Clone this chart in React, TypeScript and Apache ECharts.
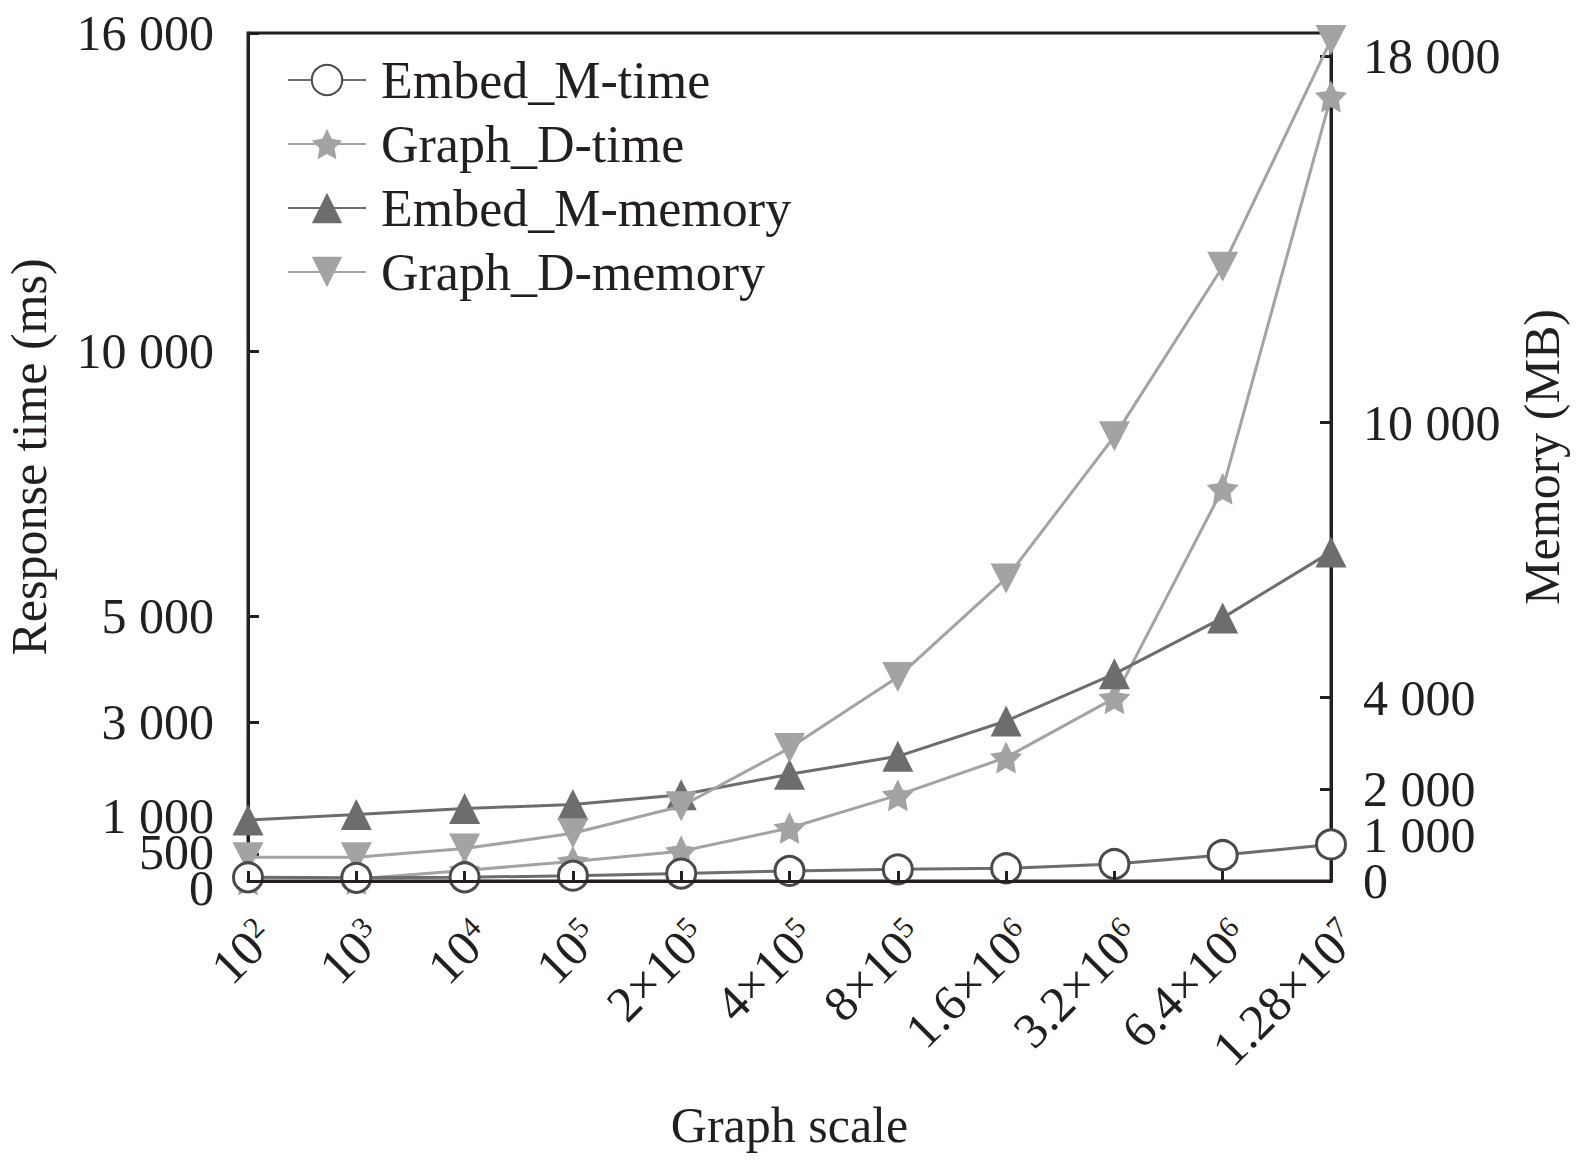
import { useRef, useEffect } from "react";
import * as echarts from "echarts";

const categories = [
  "10^2",
  "10^3",
  "10^4",
  "10^5",
  "2×10^5",
  "4×10^5",
  "8×10^5",
  "1.6×10^6",
  "3.2×10^6",
  "6.4×10^6",
  "1.28×10^7",
];
const embedTime = [70, 60, 70, 100, 140, 190, 220, 240, 320, 490, 690];
const graphTime = [30, 40, 200, 370, 560, 1000, 1620, 2330, 3450, 7400, 14800];
const embedMemory = [1330, 1450, 1580, 1670, 1880, 2330, 2720, 3490, 4520, 5740, 7180];
const graphMemory = [520, 520, 710, 1040, 1630, 2900, 4450, 6600, 9700, 13400, 18350];
// label lists start with two far-apart values so ECharts' min/max overlap check keeps every label
const timeTicks = [0, 3000, 500, 1000, 5000, 10000, 16000];
const memoryTicks = [0, 2000, 1000, 4000, 10000, 18000];

const FONT = '"Liberation Serif", "Times New Roman", serif';
const INK = "#231f20";
const DARK = "#6d6d6d";
const LIGHT = "#a3a3a3";

// five-point star symbol
const starSymbol = (() => {
  const pts: string[] = [];
  for (let i = 0; i < 10; i++) {
    const r = i % 2 === 0 ? 50 : 25;
    const a = -Math.PI / 2 + (i * Math.PI) / 5;
    pts.push(`${(50 + r * Math.cos(a)).toFixed(2)},${(50 + r * Math.sin(a)).toFixed(2)}`);
  }
  return "path://M" + pts.join("L") + "Z";
})();

const thousands = (v: number) => String(v).replace(/\B(?=(\d{3})+(?!\d))/g, " ");

const txt = (extra = {}) => ({ fontFamily: FONT, fontSize: 50, color: INK, ...extra });

const App = () => {
  const chartRef = useRef<HTMLDivElement>(null);

  useEffect(() => {
    if (!chartRef.current) return;
    const chart = echarts.init(chartRef.current, null, { renderer: "svg" });

    const option = {
      animation: false,
      textStyle: { fontFamily: FONT, color: INK },
      grid: {
        left: 248,
        right: 248,
        top: 33,
        bottom: 284,
        show: true,
        borderColor: INK,
        borderWidth: 3,
        outerBoundsMode: "none",
      },
      legend: {
        orient: "vertical",
        left: 282,
        top: 49,
        itemWidth: 78,
        itemHeight: 38,
        itemGap: 12,
        textStyle: {
          fontFamily: FONT,
          fontSize: 52,
          color: INK,
          padding: [0, 0, 0, 10],
        },
        data: ["Embed_M-time", "Graph_D-time", "Embed_M-memory", "Graph_D-memory"],
      },
      xAxis: {
        type: "category",
        data: categories,
        boundaryGap: false,
        z: 10,
        name: "Graph scale",
        nameLocation: "middle",
        nameGap: 219,
        nameTextStyle: txt(),
        axisLine: { show: true, lineStyle: { color: INK, width: 3 } },
        axisTick: {
          show: true,
          inside: true,
          length: 10,
          interval: 0,
          lineStyle: { color: INK, width: 3 },
        },
        splitLine: { show: false },
        axisLabel: {
          interval: 0,
          rotate: 45,
          margin: 30,
          align: "right",
          verticalAlign: "top",
          showMinLabel: true,
          showMaxLabel: true,
          formatter: (v: string) => {
            const [base, exp] = v.split("^");
            return `{n|${base}}{s|${exp}}`;
          },
          rich: {
            n: txt({ lineHeight: 50 }),
            s: txt({ fontSize: 30, lineHeight: 30, verticalAlign: "top" }),
          },
        },
      },
      yAxis: [
        {
          type: "value",
          position: "left",
          min: 0,
          max: 16000,
          name: "Response time (ms)",
          nameLocation: "middle",
          nameRotate: 90,
          nameGap: 194,
          nameTextStyle: txt(),
          axisLine: { show: true, lineStyle: { color: INK, width: 3 } },
          axisTick: {
            show: true,
            inside: true,
            length: 11,
            customValues: timeTicks,
            lineStyle: { color: INK, width: 3 },
          },
          splitLine: { show: false },
          axisLabel: {
            margin: 34,
            showMinLabel: true,
            showMaxLabel: true,
            hideOverlap: false,
            customValues: timeTicks,
            // the three crowded labels near zero are nudged apart like in the reference
            formatter: (v: number) => {
              const s = thousands(v);
              if (v === 0) return `{dn|${s}}`;
              if (v === 500) return `{up1|${s}}`;
              if (v === 1000) return `{up2|${s}}`;
              return `{n|${s}}`;
            },
            rich: {
              n: txt({ lineHeight: 10 }),
              dn: txt({ lineHeight: 10, padding: [14, 0, 0, 0] }),
              up1: txt({ lineHeight: 10, padding: [0, 0, 6, 0] }),
              up2: txt({ lineHeight: 10, padding: [0, 0, 24, 0] }),
            },
          },
        },
        {
          type: "value",
          position: "right",
          min: 0,
          max: 18500,
          name: "Memory (MB)",
          nameLocation: "middle",
          nameRotate: 90,
          nameGap: 186,
          nameTextStyle: txt(),
          axisLine: { show: true, lineStyle: { color: INK, width: 3 } },
          axisTick: {
            show: true,
            inside: true,
            length: 11,
            customValues: memoryTicks,
            lineStyle: { color: INK, width: 3 },
          },
          splitLine: { show: false },
          axisLabel: {
            margin: 32,
            showMinLabel: true,
            showMaxLabel: true,
            hideOverlap: false,
            customValues: memoryTicks,
            formatter: (v: number) => `{n|${thousands(v)}}`,
            rich: {
              n: txt({ lineHeight: 10 }),
            },
          },
        },
      ],
      series: [
        {
          name: "Graph_D-time",
          type: "line",
          yAxisIndex: 0,
          data: graphTime,
          z: 2,
          symbol: starSymbol,
          symbolSize: 32,
          itemStyle: { color: LIGHT },
          lineStyle: { color: LIGHT, width: 3 },
        },
        {
          name: "Embed_M-memory",
          type: "line",
          yAxisIndex: 1,
          data: embedMemory,
          z: 3,
          symbol: "triangle",
          symbolSize: [31, 31],
          itemStyle: { color: DARK },
          lineStyle: { color: DARK, width: 3 },
        },
        {
          name: "Graph_D-memory",
          type: "line",
          yAxisIndex: 1,
          data: graphMemory,
          z: 4,
          symbol: "triangle",
          symbolRotate: 180,
          symbolSize: [31, 30],
          itemStyle: { color: LIGHT },
          lineStyle: { color: LIGHT, width: 3 },
        },
        {
          name: "Embed_M-time",
          type: "line",
          yAxisIndex: 0,
          data: embedTime,
          z: 5,
          symbol: "circle",
          symbolSize: 29,
          itemStyle: { color: "#ffffff", borderColor: "#4a4a4a", borderWidth: 3 },
          lineStyle: { color: DARK, width: 3 },
        },
      ],
    };

    chart.setOption(option);

    return () => {
      chart.dispose();
    };
  }, []);

  return (
    <div
      ref={chartRef}
      style={{ position: "fixed", left: 0, top: 0, width: "1579px", height: "1165px", background: "#fff" }}
    />
  );
};

export default App;
